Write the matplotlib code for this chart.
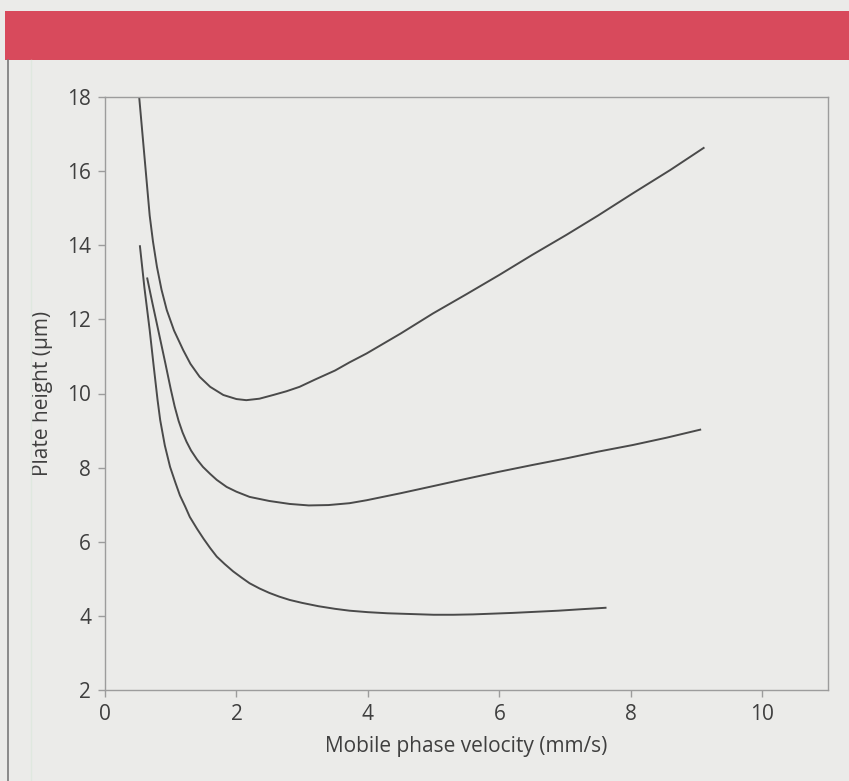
import matplotlib
matplotlib.use('Agg')
import matplotlib.pyplot as plt
from matplotlib.patches import Rectangle
from matplotlib.lines import Line2D

plt.rcParams['font.family'] = ['Open Sans', 'DejaVu Sans']

# curve readings (velocity in mm/s, plate height in um)
top_x = [0.52, 0.56, 0.60, 0.64, 0.68, 0.73, 0.79, 0.86, 0.94, 1.05, 1.19,
         1.30, 1.44, 1.60, 1.80, 2.00, 2.15, 2.35, 2.56, 2.76, 2.96, 3.20,
         3.50, 3.72, 3.98, 4.50, 4.99, 5.50, 6.00, 6.50, 7.02, 7.50, 8.03,
         8.60, 9.12]
top_y = [18.0, 17.2, 16.4, 15.6, 14.8, 14.1, 13.42, 12.8, 12.25, 11.7, 11.17,
         10.8, 10.45, 10.18, 9.96, 9.85, 9.82, 9.86, 9.96, 10.06, 10.18, 10.38,
         10.62, 10.84, 11.08, 11.62, 12.16, 12.68, 13.20, 13.74, 14.28, 14.80, 15.40,
         16.03, 16.64]

mid_x = [0.64, 0.72, 0.81, 0.92, 1.00, 1.06, 1.12, 1.18, 1.24, 1.31, 1.40,
         1.49, 1.60, 1.70, 1.85, 2.00, 2.20, 2.50, 2.81, 3.10, 3.40, 3.72,
         3.98, 4.50, 4.99, 5.50, 6.00, 6.50, 7.02, 7.50, 8.03, 8.55, 9.07]
mid_y = [13.13, 12.45, 11.71, 10.80, 10.12, 9.65, 9.26, 8.95, 8.70, 8.46, 8.22,
         8.02, 7.83, 7.67, 7.48, 7.35, 7.21, 7.10, 7.02, 6.98, 6.99, 7.04,
         7.12, 7.31, 7.50, 7.70, 7.89, 8.07, 8.25, 8.43, 8.61, 8.81, 9.03]

low_x = [0.53, 0.60, 0.68, 0.74, 0.80, 0.84, 0.91, 0.99, 1.07, 1.14, 1.22,
         1.29, 1.40, 1.50, 1.60, 1.70, 1.82, 1.95, 2.08, 2.20, 2.35, 2.50,
         2.65, 2.81, 3.00, 3.25, 3.50, 3.72, 4.00, 4.30, 4.65, 5.00, 5.30,
         5.60, 5.90, 6.20, 6.55, 6.90, 7.25, 7.63]
low_y = [14.0, 12.85, 11.71, 10.75, 9.82, 9.28, 8.60, 8.02, 7.60, 7.25, 6.95,
         6.67, 6.35, 6.08, 5.83, 5.60, 5.40, 5.20, 5.03, 4.88, 4.74, 4.62,
         4.52, 4.43, 4.35, 4.26, 4.19, 4.14, 4.10, 4.07, 4.05, 4.03, 4.03,
         4.04, 4.06, 4.08, 4.11, 4.14, 4.18, 4.22]

x_ticks = [0, 2, 4, 6, 8, 10]
y_ticks = [2, 4, 6, 8, 10, 12, 14, 16, 18]

bg = '#ebebe9'
txt = '#3f3f3f'
edge = '#9c9c9c'

fig = plt.figure(figsize=(8.49, 7.81), dpi=100, facecolor=bg)

# red header band and page frame line of the scanned box
fig.patches.append(Rectangle((0.006, 1 - 60 / 781), 0.994, 49 / 781,
                             transform=fig.transFigure, facecolor='#d84a5c',
                             edgecolor='none'))
fig.lines.append(Line2D([8 / 849, 8 / 849], [0, 1 - 60 / 781],
                        transform=fig.transFigure, color='#7a7a7a', lw=1.2))
fig.lines.append(Line2D([31 / 849, 31 / 849], [0, 1 - 60 / 781],
                        transform=fig.transFigure, color='#dfe8df', lw=1.0))

ax = fig.add_axes([105 / 849, 1 - 690 / 781, 723 / 849, 593 / 781])
ax.set_facecolor(bg)

for xs, ys in [(top_x, top_y), (mid_x, mid_y), (low_x, low_y)]:
    ax.plot(xs, ys, color='#4a4a4a', lw=1.4, solid_capstyle='butt',
            solid_joinstyle='round')

ax.set_xlim(0, 11)
ax.set_ylim(2, 18)
ax.set_xticks(x_ticks)
ax.set_yticks(y_ticks)
ax.tick_params(direction='out', length=5, width=1, color=edge,
               labelsize=15, labelcolor=txt, pad=5)
for s in ax.spines.values():
    s.set_color(edge)
    s.set_linewidth(1.0)

ax.set_xlabel('Mobile phase velocity (mm/s)', fontsize=15, color=txt, labelpad=8)
ax.set_ylabel('Plate height (\u00b5m)', fontsize=15, color=txt, labelpad=10)

plt.savefig('out.png', dpi=100, facecolor=bg)
